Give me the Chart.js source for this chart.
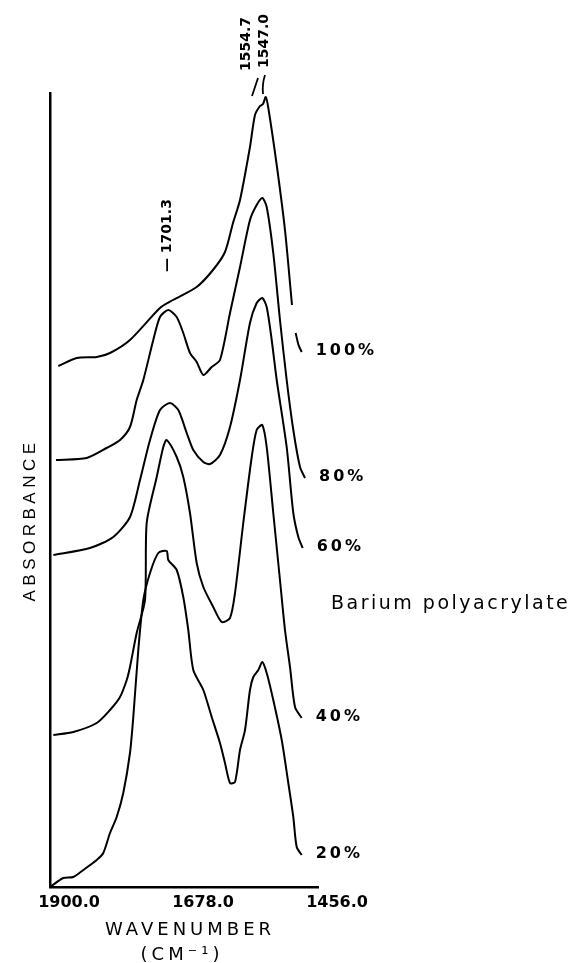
<!DOCTYPE html>
<html><head><meta charset="utf-8">
<script src="https://cdn.jsdelivr.net/npm/chart.js@4/dist/chart.umd.min.js"></script>
<style>html,body{margin:0;padding:0;background:#fff}#wrap{width:576px;height:963px;position:relative}</style>
</head><body><div id="wrap"><canvas id="c" width="576" height="963"></canvas></div>
<script>
// x axis: wavenumber (cm-1), reversed; y axis: absorbance (offset, arbitrary units)
const tickValues = [1900, 1678, 1456];
const seriesLabels = ['100%', '80%', '60%', '40%', '20%'];
const peakLabels = [1701.3, 1554.7, 1547.0];

const wn100 = [1886.2,1855.8,1822.6,1800.6,1767.5,1717.8,1696.2,1657.0,1630.0,1610.1,1596.8,1585.2,1568.7,1560.4,1552.1,1547.1,1542.6,1538.3,1524.4,1510.7,1499.1,1494.5,1493.0,1488.3,1483.0];
const abs100 = [5.21,5.29,5.30,5.34,5.47,5.79,5.87,6.00,6.17,6.35,6.64,6.87,7.40,7.72,7.81,7.83,7.90,7.79,7.22,6.57,5.82,null,5.54,5.42,5.35];

const wn80 = [1890.1,1839.2,1806.1,1784.0,1767.5,1756.4,1745.4,1728.9,1717.8,1704.0,1690.1,1679.2,1668.1,1657.0,1646.0,1632.1,1618.4,1601.8,1585.2,1568.7,1557.6,1548.3,1541.0,1530.1,1519.0,1507.9,1496.9,1485.8,1477.5];
const abs80 = [4.27,4.29,4.39,4.47,4.60,4.87,5.07,5.47,5.70,5.77,5.70,5.54,5.34,5.25,5.12,5.20,5.27,5.74,6.20,6.67,6.82,6.89,6.80,6.34,5.67,5.07,4.57,4.20,4.09];

const wn60 = [1894.5,1833.7,1795.1,1767.5,1750.9,1734.3,1717.8,1701.2,1687.4,1673.5,1662.6,1646.0,1634.9,1618.4,1601.8,1585.2,1568.7,1557.6,1548.3,1541.0,1532.7,1524.4,1507.9,1496.9,1488.6,1481.4];
const abs60 = [3.32,3.39,3.50,3.70,4.07,4.47,4.77,4.84,4.77,4.54,4.37,4.25,4.23,4.32,4.60,5.07,5.64,5.84,5.89,5.80,5.47,5.07,4.40,3.74,3.50,3.39];

const wn40 = [1894.5,1861.4,1822.6,1800.6,1784.0,1772.9,1767.5,1756.4,1742.6,1739.8,1723.2,1712.3,1706.7,1690.1,1679.2,1668.1,1657.0,1646.0,1629.5,1615.5,1601.8,1593.5,1579.8,1565.8,1557.6,1548.3,1541.0,1530.1,1519.0,1510.7,1502.4,1494.1,1483.0];
const abs40 = [1.52,1.55,1.64,1.77,1.90,2.07,2.20,2.54,2.87,3.64,4.10,4.40,4.47,4.30,4.10,3.74,3.24,3.00,2.80,2.65,2.69,2.94,3.64,4.30,4.57,4.62,4.40,3.74,3.07,2.57,2.20,1.80,1.69];

const wn20 = [1900.0,1878.0,1861.4,1844.8,1822.6,1811.7,1800.6,1789.5,1778.6,1767.5,1762.0,1753.7,1745.4,1734.3,1720.6,1706.7,1704.0,1690.1,1679.2,1670.9,1662.6,1646.0,1632.1,1618.4,1610.1,1601.8,1593.5,1585.2,1576.9,1568.7,1563.2,1554.9,1548.3,1541.0,1530.1,1516.1,1505.2,1496.9,1491.3,1483.0];
const abs20 = [0.00,0.09,0.10,0.17,0.27,0.34,0.54,0.70,0.94,1.34,1.70,2.37,2.87,3.14,3.34,3.36,3.27,3.17,2.90,2.57,2.17,1.97,1.70,1.44,1.24,1.04,1.05,1.37,1.57,1.97,2.10,2.17,2.25,2.14,1.87,1.47,1.04,0.70,0.40,0.32];

const seriesWn = [wn100, wn80, wn60, wn40, wn20];
const seriesAbs = [abs100, abs80, abs60, abs40, abs20];

const datasets = seriesLabels.map((lab, k) => ({
  label: lab,
  data: seriesWn[k].map((w, i) => ({ x: w, y: seriesAbs[k][i] })),
  showLine: true,
  borderColor: '#000',
  borderWidth: 2,
  pointRadius: 0,
  tension: 0.25,
  spanGaps: false,
  fill: false
}));

const textPlugin = {
  id: 'texts',
  afterDraw(chart) {
    const { ctx, scales: { x, y } } = chart;
    ctx.save();
    ctx.fillStyle = '#000';
    ctx.strokeStyle = '#000';
    // series end labels
    ctx.font = 'bold 16px "DejaVu Sans"';
    ctx.letterSpacing = '3px';
    ctx.textAlign = 'left';
    ctx.textBaseline = 'middle';
    seriesLabels.forEach((lab, k) => {
      const w = seriesWn[k], a = seriesAbs[k];
      const n = w.length - 1;
      ctx.fillText(lab, x.getPixelForValue(w[n]) + 14, y.getPixelForValue(a[n]) - 1);
    });
    // sample name
    ctx.font = '19px "DejaVu Sans"';
    ctx.letterSpacing = '2.5px';
    ctx.textBaseline = 'alphabetic';
    ctx.fillText('Barium polyacrylate', 331, 609);
    // x axis title
    ctx.font = '18px "DejaVu Sans"';
    ctx.letterSpacing = '4px';
    ctx.textAlign = 'center';
    ctx.fillText('WAVENUMBER', 190, 935);
    ctx.fillText('(CM\u207B\u00B9)', 182, 960);
    // y axis title
    ctx.save();
    ctx.translate(35, 520);
    ctx.rotate(-Math.PI / 2);
    ctx.font = '17px "Liberation Sans"';
    ctx.letterSpacing = '4.5px';
    ctx.textAlign = 'center';
    ctx.fillText('ABSORBANCE', 0, 0);
    ctx.restore();
    // peak annotations (rotated)
    ctx.font = 'bold 14px "DejaVu Sans"';
    ctx.letterSpacing = '0px';
    const rot = (txt, px, py) => {
      ctx.save();
      ctx.translate(px, py);
      ctx.rotate(-Math.PI / 2);
      ctx.textAlign = 'left';
      ctx.textBaseline = 'middle';
      ctx.fillText(txt, 0, 0);
      ctx.restore();
    };
    rot('\u2014 ' + peakLabels[0].toFixed(1), x.getPixelForValue(peakLabels[0]) - 3, 272);
    rot(peakLabels[1].toFixed(1), x.getPixelForValue(peakLabels[1]) - 12, 71);
    rot(peakLabels[2].toFixed(1), x.getPixelForValue(peakLabels[2]) + 1, 68);
    ctx.lineWidth = 1.8;
    ctx.beginPath();
    ctx.moveTo(252, 96); ctx.lineTo(258, 78);
    ctx.moveTo(263, 94); ctx.quadraticCurveTo(262, 84, 265, 75);
    ctx.stroke();
    ctx.restore();
  }
};

new Chart(document.getElementById('c'), {
  type: 'scatter',
  data: { datasets },
  options: {
    responsive: false,
    animation: false,
    devicePixelRatio: 1,
    layout: { padding: { top: 93, right: 258, left: 0, bottom: 0 } },
    plugins: { legend: { display: false }, tooltip: { enabled: false } },
    scales: {
      x: {
        type: 'linear',
        reverse: true,
        min: 1456,
        max: 1900,
        afterBuildTicks: (s) => { s.ticks = tickValues.map(v => ({ value: v })); },
        afterFit: (s) => { s.height = 76; },
        grid: { display: false, drawTicks: false },
        border: { display: true, color: '#000', width: 2.5 },
        ticks: {
          autoSkip: false, maxRotation: 0, padding: 6, labelOffset: 19,
          color: '#000', font: { family: 'DejaVu Sans', size: 16, weight: 'bold' },
          callback: (v) => Number(v).toFixed(1)
        }
      },
      y: {
        type: 'linear',
        min: 0,
        max: 7.94,
        afterFit: (s) => { s.width = 50; },
        grid: { display: false, drawTicks: false },
        border: { display: true, color: '#000', width: 2.5 },
        ticks: { display: false }
      }
    }
  },
  plugins: [textPlugin]
});
</script>
</body></html>
